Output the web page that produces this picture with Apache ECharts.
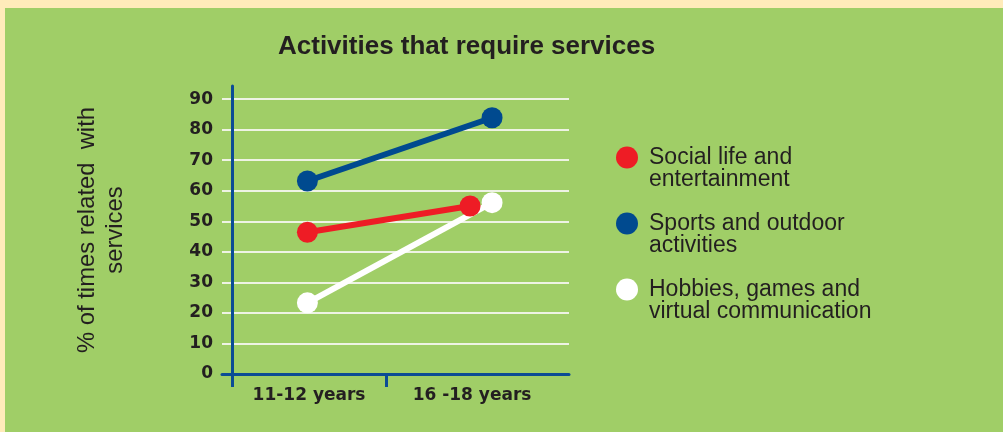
<!DOCTYPE html>
<html lang="en">
<head>
    <meta charset="UTF-8">
    <title>Activities that require services</title>
    <script src="https://cdn.jsdelivr.net/npm/echarts@6.0.0/dist/echarts.min.js"></script>
    <style>
        html, body { margin: 0; padding: 0; background: #FFEBBA; }
        #chart { position: absolute; left: 5px; top: 8px; width: 998px; height: 424px; }
    </style>
</head>
<body>
<div id="chart"></div>

<script>
    // categories and where they sit on the x scale
    var categories = ['11-12 years', '16 -18 years'];
    var categoryPos = [1, 2];
    var dividerPos = [0.528, 1.472];

    // series (x position, value)
    var socialX = [0.99, 1.988];
    var social = [46.4, 55.0];
    var sportsX = [0.99, 2.123];
    var sports = [63.2, 83.9];
    var hobbiesX = [0.99, 2.123];
    var hobbies = [23.3, 56.1];

    var yTicks = [0, 10, 20, 30, 40, 50, 60, 70, 80, 90];

    function pairs(xs, ys) {
        return ys.map(function (v, i) { return [xs[i], v]; });
    }

    var textColor = '#231F20';
    var axisBlue = '#0B4C95';

    var chart = echarts.init(document.getElementById('chart'));
    var option = {
        backgroundColor: '#A0CE67',
        animation: false,
        title: {
            text: 'Activities that require services',
            left: 273,
            top: 26,
            padding: 0,
            textStyle: {fontFamily: 'Liberation Sans', fontWeight: 'bold', fontSize: 26, color: textColor}
        },
        legend: {
            orient: 'vertical',
            left: 606,
            top: 111,
            icon: 'circle',
            itemWidth: 22,
            itemHeight: 22,
            itemGap: -1,
            // blank first line so the first text line sits level with the dot
            formatter: function (name) { return ' \n' + name; },
            textStyle: {fontFamily: 'Liberation Sans', fontSize: 23, lineHeight: 22, color: textColor, padding: [0, 0, 0, 6]},
            data: [
                {name: 'Social life and\nentertainment'},
                {name: 'Sports and outdoor\nactivities'},
                {name: 'Hobbies, games and\nvirtual communication'}
            ]
        },
        grid: {left: 217, right: 434, top: 78, bottom: 58, containLabel: false},
        xAxis: {
            type: 'value',
            min: 0.466,
            max: 2.595,
            splitLine: {show: false},
            axisLine: {show: true, onZero: false, lineStyle: {color: axisBlue, width: 3}},
            axisTick: {show: true, customValues: dividerPos, length: 13, lineStyle: {color: axisBlue, width: 3}},
            axisLabel: {
                customValues: categoryPos,
                margin: 13,
                fontFamily: 'DejaVu Sans', fontWeight: 'bold', fontSize: 17, color: textColor,
                formatter: function (v) {
                    var i = categoryPos.indexOf(v);
                    return i >= 0 ? categories[i] : '';
                }
            }
        },
        yAxis: {
            type: 'value',
            min: 0,
            max: 94.3,
            interval: 10,
            offset: -10,
            name: '% of times related  with\nservices',
            nameLocation: 'middle',
            nameRotate: 90,
            nameGap: 103,
            nameTextStyle: {fontFamily: 'Liberation Sans', fontSize: 23.8, lineHeight: 28, color: textColor},
            axisLine: {show: true, lineStyle: {color: axisBlue, width: 3}},
            axisTick: {show: false},
            axisLabel: {
                customValues: yTicks,
                margin: 19,
                fontFamily: 'DejaVu Sans', fontWeight: 'bold', fontSize: 17, color: textColor
            },
            splitLine: {show: true, showMinLine: false, showMaxLine: false, lineStyle: {color: '#EEF3E4', width: 2}}
        },
        series: [
            {
                name: 'Social life and\nentertainment',
                type: 'line',
                data: pairs(socialX, social),
                symbol: 'circle',
                symbolSize: 21,
                itemStyle: {color: '#EE1C25'},
                lineStyle: {color: '#EE1C25', width: 6}
            },
            {
                name: 'Sports and outdoor\nactivities',
                type: 'line',
                data: pairs(sportsX, sports),
                symbol: 'circle',
                symbolSize: 21,
                itemStyle: {color: '#004A8F'},
                lineStyle: {color: '#004A8F', width: 6}
            },
            {
                name: 'Hobbies, games and\nvirtual communication',
                type: 'line',
                data: pairs(hobbiesX, hobbies),
                symbol: 'circle',
                symbolSize: 21,
                itemStyle: {color: '#FFFFFF'},
                lineStyle: {color: '#FFFFFF', width: 6}
            }
        ]
    };

    chart.setOption(option);
</script>
</body>
</html>
